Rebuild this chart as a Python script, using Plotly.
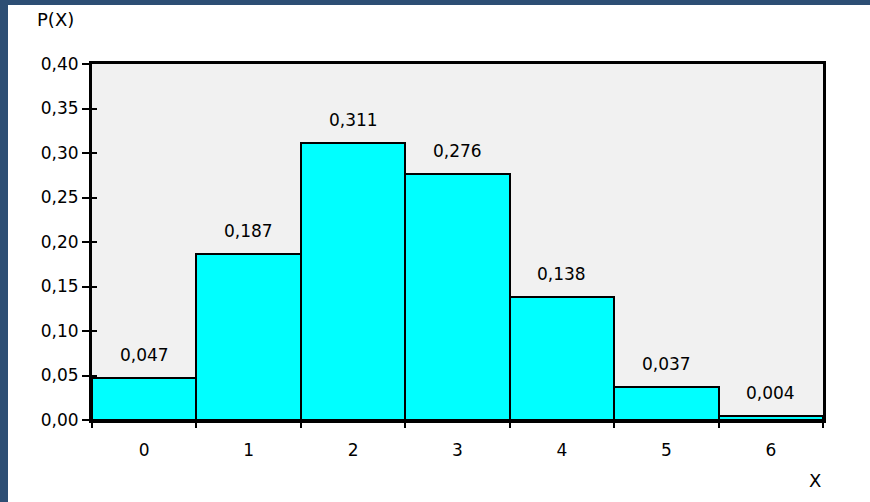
import plotly.graph_objects as go

# Binomial-type distribution P(X) for X = 0..6
x_values = [0, 1, 2, 3, 4, 5, 6]
probabilities = [0.047, 0.187, 0.311, 0.276, 0.138, 0.037, 0.004]
y_ticks = [0.00, 0.05, 0.10, 0.15, 0.20, 0.25, 0.30, 0.35, 0.40]
x_edges = [v - 0.5 for v in x_values] + [x_values[-1] + 0.5]

W, H = 870, 502
ML, MR, MT, MB = 92, 47, 64, 82
PW, PH = W - ML - MR, H - MT - MB

FONT = "DejaVu Sans"
TXT = "#000000"
FRAME_BLUE = "#2d4e74"
FS = 17


def comma(v, digits):
    return f"{v:.{digits}f}".replace(".", ",")


fig = go.Figure()
fig.add_trace(go.Bar(
    x=x_values,
    y=probabilities,
    width=1.0,
    marker=dict(color="#00ffff", line=dict(color="black", width=2)),
    hoverinfo="skip",
))

# value labels over each bar
for xv, p in zip(x_values, probabilities):
    fig.add_annotation(
        x=xv, y=p, xref="x", yref="y",
        text=comma(p, 3), showarrow=False,
        yanchor="middle", yshift=23,
        font=dict(family=FONT, size=FS, color=TXT),
    )

# axis captions
fig.add_annotation(x=-37 / PW, y=(PH + 44) / PH, xref="paper", yref="paper",
                   text="P(X)", showarrow=False, xanchor="center", yanchor="middle",
                   font=dict(family=FONT, size=18, color=TXT))
fig.add_annotation(x=(815 - ML) / PW, y=-(480 - MT - PH) / PH, xref="paper", yref="paper",
                   text="X", showarrow=False, xanchor="center", yanchor="middle",
                   font=dict(family=FONT, size=18, color=TXT))

# dark window edge on the left and top
fig.add_shape(type="rect", xref="paper", yref="paper",
              x0=-ML / PW, x1=(8 - ML) / PW, y0=-MB / PH, y1=(PH + MT) / PH,
              fillcolor=FRAME_BLUE, line=dict(width=0), layer="above")
fig.add_shape(type="rect", xref="paper", yref="paper",
              x0=-ML / PW, x1=(W - ML) / PW, y0=(PH + MT - 5) / PH, y1=(PH + MT) / PH,
              fillcolor=FRAME_BLUE, line=dict(width=0), layer="above")

fig.update_layout(
    width=W, height=H,
    margin=dict(l=ML, r=MR, t=MT, b=MB),
    paper_bgcolor="white",
    plot_bgcolor="#f1f1f1",
    bargap=0,
    showlegend=False,
    separators=", ",
    font=dict(family=FONT, size=FS, color=TXT),
    xaxis=dict(
        range=[-0.5, 6.5],
        tickvals=x_values,
        ticktext=[str(v) for v in x_values],
        ticks="outside", ticklen=13, tickcolor="rgba(0,0,0,0)",
        showgrid=False, zeroline=False,
        showline=True, linecolor="black", linewidth=3, mirror=True,
        tickfont=dict(family=FONT, size=FS, color=TXT),
    ),
    xaxis2=dict(
        overlaying="x", matches="x", anchor="y", side="bottom",
        tickvals=x_edges, ticks="outside", ticklen=7, tickwidth=2, tickcolor="black",
        showticklabels=False, showgrid=False, zeroline=False, showline=False,
    ),
    yaxis=dict(
        range=[0, 0.40],
        tickvals=y_ticks,
        tickformat=".2f",
        ticks="outside", ticklen=7, tickwidth=2, tickcolor="black",
        showgrid=False, zeroline=False,
        showline=True, linecolor="black", linewidth=3, mirror=True,
        tickfont=dict(family=FONT, size=FS, color=TXT),
    ),
    yaxis2=dict(
        overlaying="y", matches="y", anchor="x", side="left",
        tickvals=y_ticks, ticks="inside", ticklen=5, tickwidth=2, tickcolor="black",
        showticklabels=False, showgrid=False, zeroline=False, showline=False,
    ),
)

# invisible trace so the overlay axes are drawn
fig.add_trace(go.Scatter(x=[x_values[0]], y=[0], xaxis="x2", yaxis="y2",
                         mode="markers", marker=dict(opacity=0),
                         hoverinfo="skip", showlegend=False))

fig.write_html("out.html")
